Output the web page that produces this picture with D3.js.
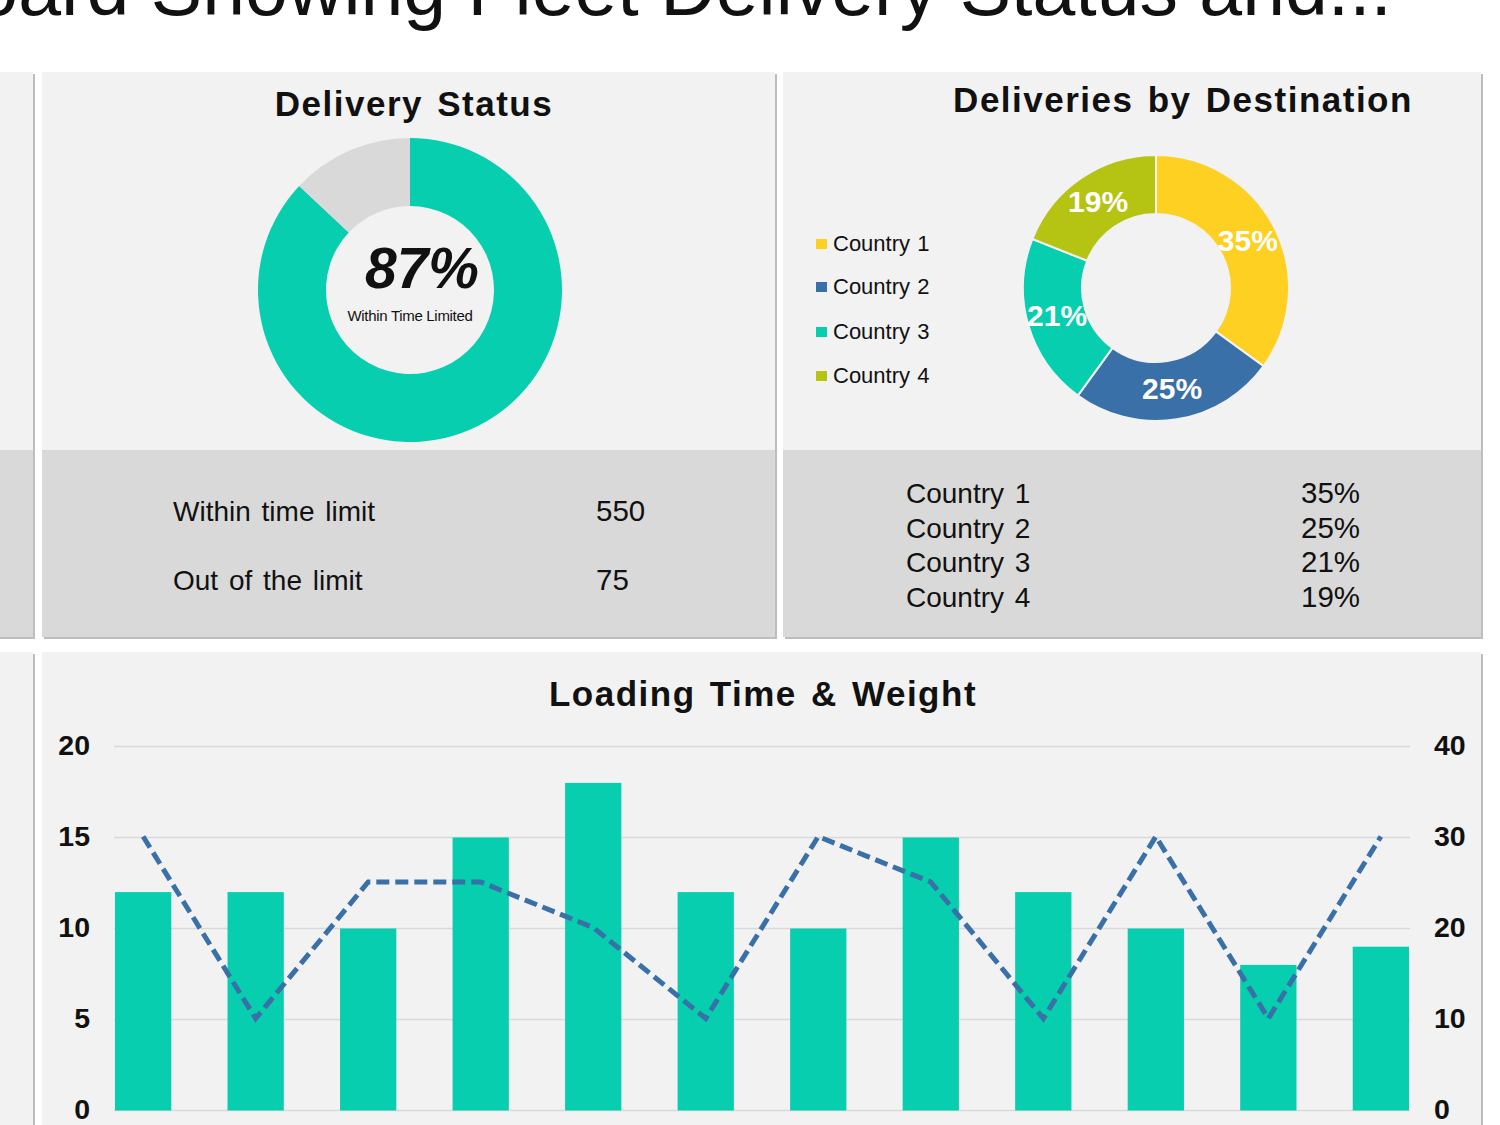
<!DOCTYPE html>
<html>
<head>
<meta charset="utf-8">
<script src="https://cdn.jsdelivr.net/npm/d3@7"></script>
<style>
  html, body { margin: 0; padding: 0; background: #fff; overflow: hidden; }
  text { font-family: "Liberation Sans", Arial, sans-serif; fill: #111; }
</style>
</head>
<body>
<div id="vis"></div>
<script>
var width = 1500;
var height = 1125;

var titleText = "Dashboard Showing Fleet Delivery Status and...";

var statusNames = ["Within time limit", "Out of the limit"];
var statusCounts = [550, 75];
var statusShares = [87, 13];

var countries = ["Country 1", "Country 2", "Country 3", "Country 4"];
var countryShares = [35, 25, 21, 19];
var countryColors = ["#fdd022", "#3a70a8", "#06ceae", "#b5c412"];

var loadIndex = ["1", "2", "3", "4", "5", "6", "7", "8", "9", "10", "11", "12"];
var loadingTime = [12, 12, 10, 15, 18, 12, 10, 15, 12, 10, 8, 9];
var weight = [30, 10, 25, 25, 20, 10, 30, 25, 10, 30, 10, 30];
var leftTicks = [0, 5, 10, 15, 20];
var rightTicks = [0, 10, 20, 30, 40];

var teal = "#06ceae";
var panelBg = "#f2f2f2";
var tableBg = "#d9d9d9";
var edge = "#bdbdbd";

var svg = d3.select("#vis").append("svg")
  .attr("width", width)
  .attr("height", height)
  .style("display", "block");

// panel with grey edge on right and bottom
function panel(x, y, w, h, fill) {
  svg.append("rect").attr("x", x + 2).attr("y", y + 2).attr("width", w).attr("height", h).attr("fill", edge);
  svg.append("rect").attr("x", x).attr("y", y).attr("width", w).attr("height", h).attr("fill", fill);
}

function label(x, y, txt, size, weightName, anchor) {
  return svg.append("text")
    .attr("x", x)
    .attr("y", y)
    .attr("font-size", size)
    .attr("font-weight", weightName || "normal")
    .attr("text-anchor", anchor || "start")
    .text(txt);
}

function heading(x, y, txt) {
  return label(x, y, txt, 35, "bold", "middle")
    .attr("letter-spacing", 1.5)
    .attr("word-spacing", 3);
}

// title runs off the top and the left of the crop
label(1392, 15, titleText, 77, "normal", "end");

panel(-10, 72, 43, 378, panelBg);
panel(-10, 450, 43, 187, tableBg);
panel(42, 72, 733, 378, panelBg);
panel(42, 450, 733, 187, tableBg);
panel(783, 72, 698, 378, panelBg);
panel(783, 450, 698, 187, tableBg);
panel(-10, 652, 43, 500, panelBg);
panel(42, 652, 1439, 500, panelBg);

// delivery status donut
heading(414, 116, "Delivery Status");

var pie = d3.pie().sort(null).value(function (d) { return d; });

var statusArc = d3.arc().innerRadius(84).outerRadius(152);
var statusG = svg.append("g").attr("transform", "translate(410,290)");
statusG.selectAll("path")
  .data(pie(statusShares))
  .enter().append("path")
  .attr("d", statusArc)
  .attr("fill", function (d, i) { return i == 0 ? teal : tableBg; });

label(422, 288, statusShares[0] + "%", 57, "bold", "middle").attr("font-style", "italic");
label(410, 321, "Within Time Limited", 15, "normal", "middle").attr("letter-spacing", -0.3);

statusNames.forEach(function (n, i) {
  label(173, 521 + i * 69, n, 28).attr("word-spacing", 3);
  label(596, 521 + i * 69, statusCounts[i], 29.5);
});

// destination donut
heading(1183, 112, "Deliveries by Destination");

var destArc = d3.arc().innerRadius(74).outerRadius(133);
var destG = svg.append("g").attr("transform", "translate(1156,288)");
destG.selectAll("path")
  .data(pie(countryShares))
  .enter().append("path")
  .attr("d", destArc)
  .attr("fill", function (d, i) { return countryColors[i]; })
  .attr("stroke", panelBg)
  .attr("stroke-width", 2);

var destLabelArc = d3.arc().innerRadius(103).outerRadius(103);
destG.selectAll("text")
  .data(pie(countryShares))
  .enter().append("text")
  .attr("transform", function (d) {
    var c = destLabelArc.centroid(d);
    return "translate(" + c[0] + "," + c[1] + ")";
  })
  .attr("text-anchor", "middle")
  .attr("dy", "0.31em")
  .attr("font-size", 30)
  .attr("font-weight", "bold")
  .style("fill", "#fff")
  .text(function (d) { return d.data + "%"; });

countries.forEach(function (c, i) {
  var ly = [244, 287, 332, 376][i];
  svg.append("rect").attr("x", 816).attr("y", ly - 5).attr("width", 11).attr("height", 10).attr("fill", countryColors[i]);
  label(833, ly + 7, c, 22).attr("word-spacing", 1);
  label(906, 503 + i * 34.6, c, 28).attr("word-spacing", 3);
  label(1301, 503 + i * 34.6, countryShares[i] + "%", 29.5);
});

// loading time and weight combo
heading(763, 706, "Loading Time & Weight");

var x = d3.scaleBand().domain(loadIndex).range([115, 1409]).paddingInner(0.5).paddingOuter(0);
var yLeft = d3.scaleLinear().domain([0, 20]).range([1110.5, 746.5]);
var yRight = d3.scaleLinear().domain([0, 40]).range([1110.5, 746.5]);

var leftAxis = svg.append("g")
  .attr("transform", "translate(114,-1.5)")
  .call(d3.axisLeft(yLeft).tickValues(leftTicks).tickSize(0).tickPadding(24));
var rightAxis = svg.append("g")
  .attr("transform", "translate(1410,-1.5)")
  .call(d3.axisRight(yRight).tickValues(rightTicks).tickSize(0).tickPadding(24));

[leftAxis, rightAxis].forEach(function (a) {
  a.select(".domain").remove();
  a.selectAll("text")
    .attr("font-size", 28.5)
    .attr("font-weight", "bold")
    .attr("font-family", "Liberation Sans");
});

svg.append("g").selectAll("line")
  .data(leftTicks)
  .enter().append("line")
  .attr("x1", 114)
  .attr("x2", 1410)
  .attr("y1", function (d) { return yLeft(d); })
  .attr("y2", function (d) { return yLeft(d); })
  .attr("stroke", "#d9d9d9")
  .attr("stroke-width", 1.5);

svg.append("g").selectAll("rect")
  .data(loadingTime)
  .enter().append("rect")
  .attr("x", function (d, i) { return x(loadIndex[i]); })
  .attr("y", function (d) { return yLeft(d); })
  .attr("width", x.bandwidth())
  .attr("height", function (d) { return yLeft(0) - yLeft(d); })
  .attr("fill", teal);

var line = d3.line()
  .x(function (d, i) { return x(loadIndex[i]) + x.bandwidth() / 2; })
  .y(function (d) { return yRight(d) - 1; });

svg.append("path")
  .datum(weight)
  .attr("d", line)
  .attr("fill", "none")
  .attr("stroke", "#3a70a8")
  .attr("stroke-width", 5)
  .attr("stroke-dasharray", "13,6");
</script>
</body>
</html>
